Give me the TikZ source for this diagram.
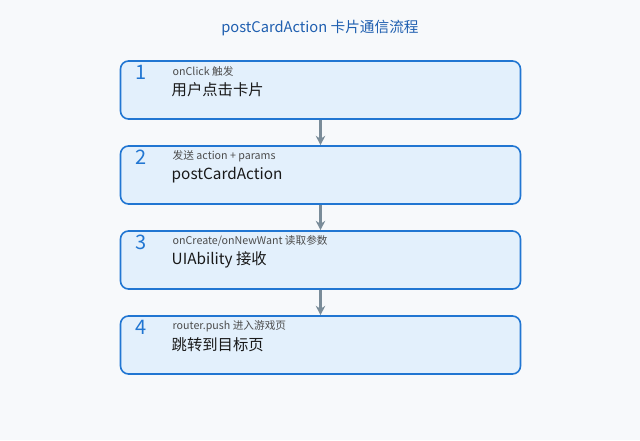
\documentclass[tikz,border=0pt]{standalone}
\usepackage{fontspec}
\setmainfont{Noto Sans CJK SC}
\usetikzlibrary{arrows.meta, positioning}
\definecolor{boxblue}{HTML}{2176D2}
\definecolor{titleblue}{HTML}{1F5FB0}
\definecolor{boxfill}{HTML}{E3F0FC}
\definecolor{arrowgray}{HTML}{7A8C99}
\definecolor{bggray}{HTML}{F7F9FB}
\begin{document}
\begin{tikzpicture}[x=0.75pt,y=-0.75pt,
    stepbox/.style={draw=boxblue,line width=1.2pt,fill=boxfill,rounded corners=6pt,
                 minimum width=300pt,minimum height=43.5pt,inner sep=0pt},
    num/.style={text=boxblue,font=\fontsize{15}{15}\selectfont},
    sub/.style={text=black!70,font=\fontsize{8}{9}\selectfont,anchor=west},
    txt/.style={text=black!90,font=\fontsize{11.5}{12}\selectfont,anchor=west},
    >={Stealth[length=7pt,width=7pt]}]
\fill[bggray] (0,0) rectangle (640,440);
\node (title) at (320,28) [text=titleblue,font=\fontsize{11}{12}\selectfont] {postCardAction 卡片通信流程};

\node (s1) at (320.5,90) [stepbox] {};
\node (s2) at (320.5,175) [stepbox] {};
\node (s3) at (320.5,260) [stepbox] {};
\node (s4) at (320.5,345) [stepbox] {};

\foreach \i/\y/\a/\b in {1/90/{onClick 触发}/{用户点击卡片},
                          2/175/{发送 action + params}/{postCardAction},
                          3/260/{onCreate/onNewWant 读取参数}/{UIAbility 接收},
                          4/345/{router.push 进入游戏页}/{跳转到目标页}} {
    \node (n\i) at (141,\y-18) [num] {\i};
    \node (a\i) at (168,\y-19) [sub] {\a};
    \node (b\i) at (167,\y) [txt] {\b};
}

\foreach \p/\q in {s1/s2, s2/s3, s3/s4}
    \draw [->,arrowgray,line width=1.6pt] (\p) -- (\q);
\end{tikzpicture}
\end{document}
